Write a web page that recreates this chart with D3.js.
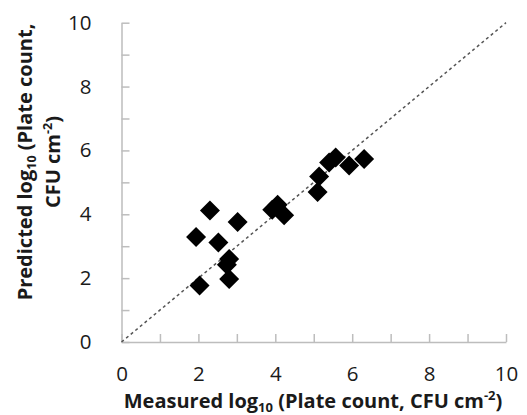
<!DOCTYPE html>
<html>
<head>
<meta charset="utf-8">
<script src="https://cdn.jsdelivr.net/npm/d3@7"></script>
<style>
  body { margin: 0; background: #fff; }
  text { font-family: "Open Sans", "Liberation Sans", sans-serif; fill: #1a1a1a; }
</style>
</head>
<body>
<div id="chart"></div>
<script>
// Measured vs predicted log10 plate counts
const measured  = [2.30, 3.02, 1.94, 2.52, 2.80, 2.74, 2.80, 2.03, 3.92, 4.06, 4.23, 5.10, 5.14, 5.40, 5.57, 5.92, 6.31];
const predicted = [4.12, 3.76, 3.29, 3.12, 2.60, 2.42, 1.97, 1.77, 4.14, 4.30, 3.97, 4.70, 5.18, 5.62, 5.78, 5.53, 5.73];
const axisTicks = [0, 1, 2, 3, 4, 5, 6, 7, 8, 9, 10];
const lineOfEquality = [0, 10];

const width = 527;
const height = 415;
const margin = { left: 121.5, right: 21, top: 22.7, bottom: 73 };

const svg = d3.select("#chart")
  .append("svg")
  .attr("width", width)
  .attr("height", height);

const x = d3.scaleLinear().domain([0, 10]).range([margin.left, width - margin.right]);
const y = d3.scaleLinear().domain([0, 10]).range([height - margin.bottom, margin.top]);

const fmt = d => (d % 2 === 0 ? d : "");

// Axes with ticks pointing into the plot, labels every 2
const xAxis = svg.append("g")
  .attr("transform", `translate(0,${y(0)})`)
  .call(d3.axisBottom(x).tickValues(axisTicks).tickFormat(fmt).tickSizeInner(-8).tickSizeOuter(0).tickPadding(24));

const yAxis = svg.append("g")
  .attr("transform", `translate(${x(0)},0)`)
  .call(d3.axisLeft(y).tickValues(axisTicks).tickFormat(fmt).tickSizeInner(-8).tickSizeOuter(0).tickPadding(30));

[xAxis, yAxis].forEach(g => {
  g.select(".domain").attr("stroke", "#bdbdbd").attr("stroke-width", 1.5);
  g.selectAll(".tick line").attr("stroke", "#bdbdbd").attr("stroke-width", 1.5);
  g.selectAll(".tick text").attr("font-size", 20.5).attr("fill", "#1a1a1a");
});

// 1:1 dashed line
svg.append("line")
  .attr("x1", x(lineOfEquality[0]))
  .attr("y1", y(lineOfEquality[0]))
  .attr("x2", x(lineOfEquality[1]))
  .attr("y2", y(lineOfEquality[1]))
  .attr("stroke", "#555")
  .attr("stroke-width", 1.5)
  .attr("stroke-dasharray", "3,3");

// Diamond markers
const diamond = d3.symbol().type(d3.symbolSquare).size(200);
svg.append("g")
  .selectAll("path")
  .data(measured.map((m, i) => [m, predicted[i]]))
  .join("path")
  .attr("d", diamond)
  .attr("transform", d => `translate(${x(d[0])},${y(d[1])}) rotate(45)`)
  .attr("fill", "#000");

// Axis titles
const xTitle = svg.append("text")
  .attr("x", 313)
  .attr("y", 407.5)
  .attr("text-anchor", "middle")
  .attr("font-size", 20)
  .attr("font-weight", "bold");
xTitle.append("tspan").text("Measured log");
xTitle.append("tspan").attr("font-size", 13).attr("dy", 4).text("10");
xTitle.append("tspan").attr("dy", -4).text(" (Plate count, CFU cm");
xTitle.append("tspan").attr("font-size", 13).attr("dy", -8).text("-2");
xTitle.append("tspan").attr("dy", 8).text(")");

const yTitle = svg.append("g").attr("transform", "translate(0,162) rotate(-90)");
const yLine1 = yTitle.append("text")
  .attr("x", 0)
  .attr("y", 32)
  .attr("text-anchor", "middle")
  .attr("font-size", 20)
  .attr("font-weight", "bold");
yLine1.append("tspan").text("Predicted log");
yLine1.append("tspan").attr("font-size", 12.5).attr("dy", 4).text("10");
yLine1.append("tspan").attr("dy", -4).text(" (Plate count,");

const yLine2 = yTitle.append("text")
  .attr("x", 0)
  .attr("y", 60)
  .attr("text-anchor", "middle")
  .attr("font-size", 20)
  .attr("font-weight", "bold");
yLine2.append("tspan").text("CFU cm");
yLine2.append("tspan").attr("font-size", 12.5).attr("dy", -8).text("-2");
yLine2.append("tspan").attr("dy", 8).text(")");
</script>
</body>
</html>
